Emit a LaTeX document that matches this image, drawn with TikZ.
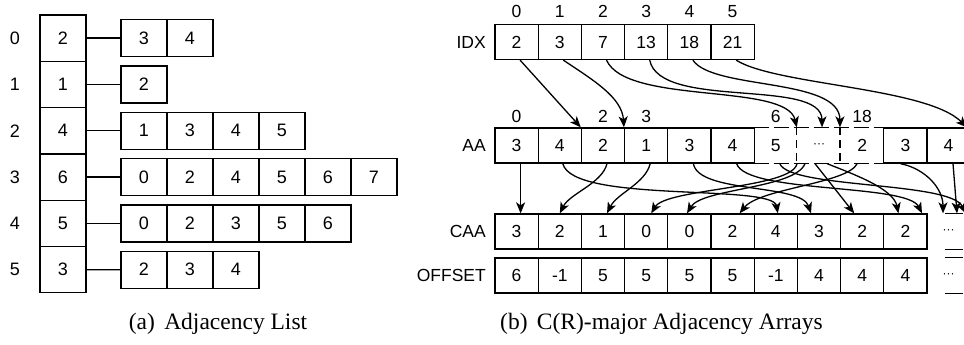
\documentclass[tikz,border=0pt]{standalone}
\usepackage{fontspec}
\setmainfont{Liberation Serif}
\setsansfont{Liberation Sans}
\usetikzlibrary{arrows.meta,calc}
\begin{document}
\begin{tikzpicture}[x=1pt,y=-1pt,
  lw/.style={line width=1.3pt},
  lcell/.style={draw,lw,minimum width=46pt,minimum height=46.3pt,inner sep=0pt,font=\sffamily\fontsize{18}{18}\selectfont},
  lbox/.style={draw,lw,minimum width=46pt,minimum height=37pt,inner sep=0pt,font=\sffamily\fontsize{18}{18}\selectfont},
  lab/.style={inner sep=0pt,font=\sffamily\fontsize{18}{18}\selectfont},
  rcell/.style={draw,lw,minimum width=43.2pt,minimum height=35pt,inner sep=0pt,font=\sffamily\fontsize{17.5}{17.5}\selectfont},
  rnull/.style={rcell,draw=none},
  rlab/.style={inner sep=0pt,anchor=east,font=\sffamily\fontsize{17.5}{17.5}\selectfont},
  toplab/.style={inner sep=0pt,font=\sffamily\fontsize{17.5}{17.5}\selectfont},
  arr/.style={lw,-{Stealth[length=11pt,width=9pt,inset=3pt]}},
  captxt/.style={inner sep=0pt,font=\fontsize{23.5}{23.5}\selectfont},
  hdash/.style={lw,dash pattern=on 15pt off 5pt},
  vdash/.style={lw,dash pattern=on 8pt off 5pt},
  edash/.style={lw,dash pattern=on 18pt off 19pt,dash phase=18pt},
]
\clip (0,0) rectangle (964,345);
% ---------- (a) adjacency list ----------
\foreach \v [count=\i from 0] in {2,1,4,6,5,3} {
  \node[lcell] (c\i) at (63,{38.15+46.3*\i}) {\v};
  \node[lab] (r\i) at (15,{38.15+46.3*\i}) {\i};
}
\foreach \v [count=\j from 0] in {3,4} \node[lbox] (l0-\j) at ({144+46*\j},38.15) {\v};
\foreach \v [count=\j from 0] in {2} \node[lbox] (l1-\j) at ({144+46*\j},84.45) {\v};
\foreach \v [count=\j from 0] in {1,3,4,5} \node[lbox] (l2-\j) at ({144+46*\j},130.75) {\v};
\foreach \v [count=\j from 0] in {0,2,4,5,6,7} \node[lbox] (l3-\j) at ({144+46*\j},177.05) {\v};
\foreach \v [count=\j from 0] in {0,2,3,5,6} \node[lbox] (l4-\j) at ({144+46*\j},223.35) {\v};
\foreach \v [count=\j from 0] in {2,3,4} \node[lbox] (l5-\j) at ({144+46*\j},269.65) {\v};
\foreach \i in {0,...,5} \draw[lw] (c\i.east) -- (l\i-0.west);
% ---------- (b) arrays ----------
\foreach \v [count=\k from 0] in {2,3,7,13,18,21} {
  \node[rcell] (idx\k) at ({516.6+43.2*\k},42) {\v};
  \node[toplab] (ii\k) at ({516.6+43.2*\k},11.5) {\k};
}
\node[rlab] (idxl) at (486,42) {IDX};
\foreach \v [count=\k from 0] in {3,4,2,1,3,4} \node[rcell] (aa\k) at ({516.6+43.2*\k},145.5) {\v};
\node[rnull] (aa6) at (775.8,145.5) {5};
\node[rnull] (aa7) at (819,145.5) {\fontsize{12}{12}\selectfont\char"00B7\char"00B7\char"00B7};
\node[rnull] (aa8) at (862.2,145.5) {2};
\node[rcell] (aa9) at (905.4,145.5) {3};
\node[rcell] (aa10) at (948.6,145.5) {4};
\draw[hdash] (aa6.north west) -- (aa8.north east);
\draw[hdash] (aa6.south west) -- (aa8.south east);
\draw[vdash] (aa7.north west) -- (aa7.south west);
\draw[vdash] (aa8.north west) -- (aa8.south west);
\node[rlab] (aal) at (486,145.5) {AA};
\node[toplab] (ai0) at (516.6,116.5) {0};
\node[toplab] (ai2) at (603,116.5) {2};
\node[toplab] (ai3) at (646.2,116.5) {3};
\node[toplab] (ai6) at (775.8,116.5) {6};
\node[toplab] (ai18) at (862.2,116.5) {18};
\foreach \v [count=\k from 0] in {3,2,1,0,0,2,4,3,2,2} \node[rcell] (caa\k) at ({516.6+43.2*\k},231.5) {\v};
\node[rnull] (caa10) at (948.6,231.5) {\fontsize{12}{12}\selectfont\char"00B7\char"00B7\char"00B7};
\draw[edash] (caa10.north west) -- (caa10.north east);
\draw[edash] (caa10.south west) -- (caa10.south east);
\node[rlab] (caal) at (486,231.5) {CAA};
\foreach \v [count=\k from 0] in {6,-1,5,5,5,5,-1,4,4,4} \node[rcell] (off\k) at ({516.6+43.2*\k},275.5) {\v};
\node[rnull] (off10) at (948.6,275.5) {\fontsize{12}{12}\selectfont\char"00B7\char"00B7\char"00B7};
\draw[edash] (off10.north west) -- (off10.north east);
\draw[edash] (off10.south west) -- (off10.south east);
\node[rlab] (offl) at (486,275.5) {OFFSET};
% IDX -> AA
\draw[arr] ([xshift=3.5pt]idx0.south) -- (aa2.north west);
\draw[arr] ([xshift=3.5pt]idx1.south) .. controls +(30,20) and +(-2,-30) .. (aa3.north west);
\draw[arr] ([xshift=3.5pt]idx2.south) .. controls +(20,45) and +(-10,-45) .. (aa7.north west);
\draw[arr] ([xshift=3.5pt]idx3.south) .. controls +(10,50) and +(0,-50) .. ([xshift=3pt]aa7.north);
\draw[arr] ([xshift=3.5pt]idx4.south) .. controls +(20,30) and +(0,-50) .. (aa8.north west);
\draw[arr] ([xshift=3.5pt]idx5.south) .. controls +(40,25) and +(-40,-40) .. ([xshift=-4pt]aa10.north east);
% AA -> CAA
\draw[arr] ([xshift=4pt]aa0.south) -- ([xshift=4pt]caa0.north);
\draw[arr] ([xshift=3pt]aa1.south) .. controls +(10,40) and +(-5,-30) .. ([xshift=2pt]caa6.north);
\draw[arr] ([xshift=4pt]aa2.south) .. controls +(-5,20) and +(10,-20) .. (caa1.north);
\draw[arr] ([xshift=4pt]aa3.south) .. controls +(-5,20) and +(10,-20) .. ([xshift=4pt]caa2.north);
\draw[arr] ([xshift=4pt]aa4.south) .. controls +(5,30) and +(-10,-30) .. ([xshift=-8pt]caa7.north);
\draw[arr] ([xshift=4pt]aa5.south) .. controls +(10,30) and +(-15,-30) .. ([xshift=16.6pt]caa9.north);
\draw[arr] ([xshift=4pt]aa6.south) .. controls +(10,25) and +(-15,-32) .. ([xshift=17pt]caa10.north);
\draw[arr] ([xshift=-22pt]aa7.south) .. controls +(-5,25) and +(15,-25) .. ([xshift=5pt]caa3.north);
\draw[arr] ([xshift=-14pt]aa7.south) .. controls +(-10,25) and +(15,-25) .. ([xshift=-2.4pt]caa4.north);
\draw[arr] ([xshift=-4pt]aa7.south) -- ([xshift=-8pt]caa8.north);
\draw[arr] ([xshift=8pt]aa7.south) .. controls +(25,10) and +(-5,-25) .. ([xshift=-7pt]caa9.north);
\draw[arr] ([xshift=-5pt]aa8.south) .. controls +(-10,20) and +(20,-25) .. ([xshift=7pt]caa5.north);
\draw[arr] ([xshift=-5pt]aa9.south) .. controls +(25,5) and +(0,-25) .. ([xshift=-5.6pt]caa10.north);
\draw[arr] ([xshift=4.4pt]aa10.south) -- ([xshift=8.4pt]caa10.north);
% captions
\node[captxt] (capa) at (218,324) {(a)\hspace{0.4em}Adjacency List};
\node[captxt] (capb) at (661.5,324) {(b)\hspace{0.4em}C(R)-major Adjacency Arrays};
\end{tikzpicture}
\end{document}
